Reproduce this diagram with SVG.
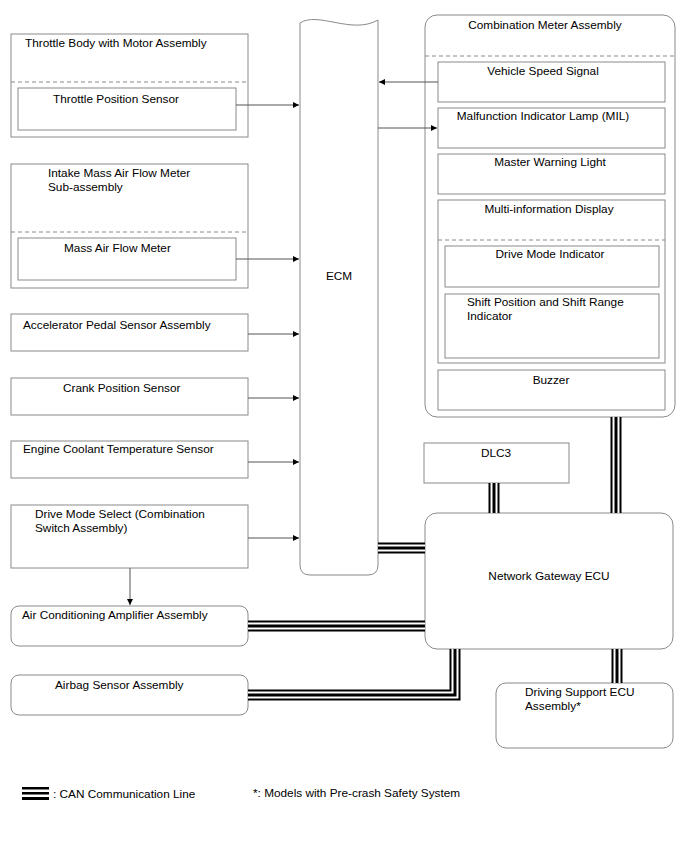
<svg xmlns="http://www.w3.org/2000/svg" width="688" height="852" viewBox="0 0 688 852">
<defs>
<marker id="arr" viewBox="0 0 10 10" refX="10" refY="5" markerWidth="9" markerHeight="6" markerUnits="userSpaceOnUse" orient="auto">
<path d="M0,0 L10,5 L0,10 Z" fill="#000"/>
</marker>
</defs>
<style>
.box{fill:#fff;stroke:#8a8a8a;stroke-width:1}
.dash{stroke:#8a8a8a;stroke-width:1;stroke-dasharray:4,3;fill:none}
.t{font-family:"Liberation Sans",Arial,sans-serif;font-size:11.8px;fill:#000}
.tc{font-family:"Liberation Sans",Arial,sans-serif;font-size:11.8px;fill:#000;text-anchor:middle}
.ln{stroke:#555;stroke-width:1;fill:none}
.c1{stroke:#000;stroke-width:11;fill:none}
.c2{stroke:#fff;stroke-width:7;fill:none}
.c3{stroke:#000;stroke-width:3;fill:none}
</style>
<rect width="688" height="852" fill="#fff"/>

<g id="throttle-body">
<rect class="box" x="11" y="34" width="237" height="103"/>
<line class="dash" x1="11" y1="82" x2="248" y2="82"/>
<text class="t" x="25" y="47">Throttle Body with Motor Assembly</text>
</g>
<g id="throttle-position-sensor">
<rect class="box" x="18" y="88" width="218" height="42"/>
<text class="t" x="53" y="103">Throttle Position Sensor</text>
</g>

<g id="intake-maf">
<rect class="box" x="11" y="164" width="237" height="124"/>
<line class="dash" x1="11" y1="232" x2="248" y2="232"/>
<text class="t" x="48" y="177">Intake Mass Air Flow Meter</text>
<text class="t" x="48" y="191">Sub-assembly</text>
</g>
<g id="maf">
<rect class="box" x="18" y="238" width="218" height="42"/>
<text class="t" x="64" y="252">Mass Air Flow Meter</text>
</g>

<g id="accelerator">
<rect class="box" x="11" y="314" width="237" height="37"/>
<text class="t" x="23" y="329">Accelerator Pedal Sensor Assembly</text>
</g>
<g id="crank">
<rect class="box" x="11" y="378" width="237" height="37"/>
<text class="t" x="63" y="392">Crank Position Sensor</text>
</g>
<g id="coolant">
<rect class="box" x="11" y="441" width="237" height="37"/>
<text class="t" x="23" y="453">Engine Coolant Temperature Sensor</text>
</g>
<g id="drive-mode-select">
<rect class="box" x="11" y="505" width="237" height="63"/>
<text class="t" x="35" y="518">Drive Mode Select (Combination</text>
<text class="t" x="35" y="532">Switch Assembly)</text>
</g>
<g id="ac-amplifier">
<rect class="box" x="11" y="606" width="237" height="40" rx="8"/>
<text class="t" x="22" y="619">Air Conditioning Amplifier Assembly</text>
</g>
<g id="airbag">
<rect class="box" x="11" y="675" width="237" height="40" rx="8"/>
<text class="t" x="55" y="689">Airbag Sensor Assembly</text>
</g>

<g id="ecm">
<path class="box" d="M300,23 C318,11 352,35 378,20 L378,565 Q378,575 368,575 L310,575 Q300,575 300,565 Z"/>
<text class="tc" x="339" y="280">ECM</text>
</g>

<g id="combination-meter">
<rect class="box" x="425" y="15" width="250" height="402" rx="12"/>
<line class="dash" x1="425" y1="56" x2="675" y2="56"/>
<text class="tc" x="545" y="29">Combination Meter Assembly</text>
</g>
<g id="vehicle-speed">
<rect class="box" x="438" y="62" width="227" height="40"/>
<text class="tc" x="543" y="75">Vehicle Speed Signal</text>
</g>
<g id="mil">
<rect class="box" x="438" y="108" width="227" height="40"/>
<text class="tc" x="543" y="120">Malfunction Indicator Lamp (MIL)</text>
</g>
<g id="master-warning">
<rect class="box" x="438" y="154" width="227" height="40"/>
<text class="tc" x="550" y="166">Master Warning Light</text>
</g>
<g id="multi-info">
<rect class="box" x="438" y="200" width="227" height="163"/>
<line class="dash" x1="438" y1="240" x2="665" y2="240"/>
<text class="tc" x="549" y="213">Multi-information Display</text>
</g>
<g id="drive-mode-indicator">
<rect class="box" x="445" y="246" width="214" height="41"/>
<text class="tc" x="550" y="258">Drive Mode Indicator</text>
</g>
<g id="shift-indicator">
<rect class="box" x="445" y="294" width="214" height="64"/>
<text class="t" x="467" y="306">Shift Position and Shift Range</text>
<text class="t" x="467" y="320">Indicator</text>
</g>
<g id="buzzer">
<rect class="box" x="438" y="370" width="227" height="40"/>
<text class="tc" x="551" y="384">Buzzer</text>
</g>

<g id="dlc3">
<rect class="box" x="424" y="443" width="145" height="40"/>
<text class="tc" x="496" y="457">DLC3</text>
</g>
<g id="gateway">
<rect class="box" x="425" y="513" width="248" height="136" rx="12"/>
<text class="tc" x="549" y="580">Network Gateway ECU</text>
</g>
<g id="driving-support">
<rect class="box" x="496" y="683" width="177" height="65" rx="10"/>
<text class="t" x="525" y="696">Driving Support ECU</text>
<text class="t" x="525" y="710">Assembly*</text>
</g>

<g id="connectors">
<line class="ln" x1="236" y1="105" x2="299" y2="105" marker-end="url(#arr)"/>
<line class="ln" x1="236" y1="259" x2="299" y2="259" marker-end="url(#arr)"/>
<line class="ln" x1="248" y1="334" x2="299" y2="334" marker-end="url(#arr)"/>
<line class="ln" x1="248" y1="398" x2="299" y2="398" marker-end="url(#arr)"/>
<line class="ln" x1="248" y1="462" x2="299" y2="462" marker-end="url(#arr)"/>
<line class="ln" x1="248" y1="538" x2="299" y2="538" marker-end="url(#arr)"/>
<line class="ln" x1="130" y1="568" x2="130" y2="605" marker-end="url(#arr)"/>
<line class="ln" x1="438" y1="82" x2="379" y2="82" marker-end="url(#arr)"/>
<line class="ln" x1="378" y1="128" x2="437" y2="128" marker-end="url(#arr)"/>
<g id="can">
<path class="c1" d="M378,548 H425"/><path class="c2" d="M378,548 H425"/><path class="c3" d="M378,548 H425"/>
<path class="c1" d="M494,483 V513"/><path class="c2" d="M494,483 V513"/><path class="c3" d="M494,483 V513"/>
<path class="c1" d="M616,417 V513"/><path class="c2" d="M616,417 V513"/><path class="c3" d="M616,417 V513"/>
<path class="c1" d="M248,626 H425"/><path class="c2" d="M248,626 H425"/><path class="c3" d="M248,626 H425"/>
<path class="c1" d="M248,695 H455 V649"/><path class="c2" d="M248,695 H455 V649"/><path class="c3" d="M248,695 H455 V649"/>
<path class="c1" d="M617,649 V683"/><path class="c2" d="M617,649 V683"/><path class="c3" d="M617,649 V683"/>
</g>
</g>

<g id="legend">
<rect x="22" y="787" width="27" height="2.5" fill="#000"/>
<rect x="22" y="792" width="27" height="2.5" fill="#000"/>
<rect x="22" y="797" width="27" height="3" fill="#000"/>
<text class="t" x="53" y="798">: CAN Communication Line</text>
<text class="t" x="253" y="797">*: Models with Pre-crash Safety System</text>
</g>
</svg>
